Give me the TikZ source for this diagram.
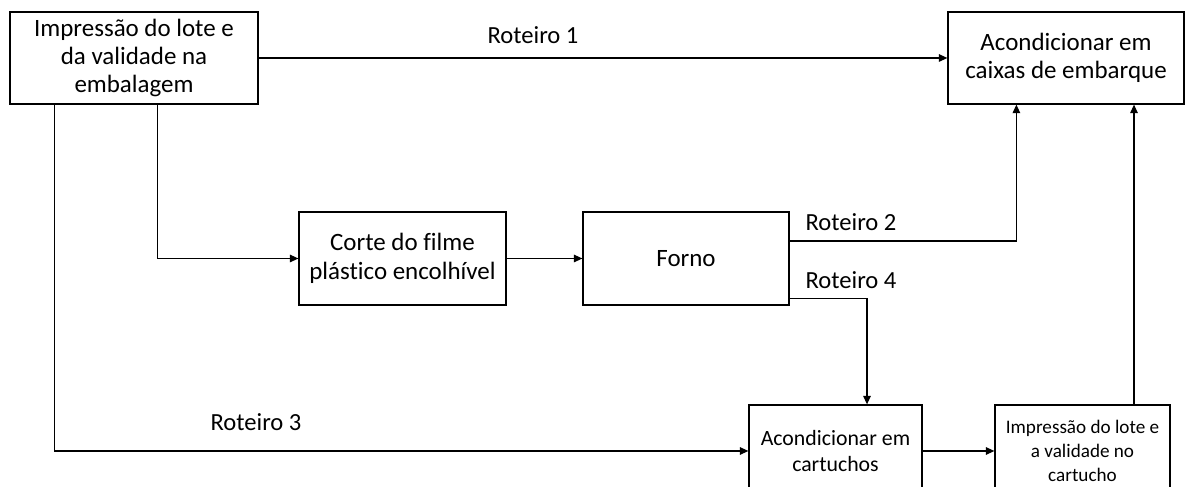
\documentclass[tikz,border=0pt]{standalone}
\usepackage{fontspec}
\setmainfont{Carlito}[Ligatures=NoCommon]
\usetikzlibrary{arrows.meta}

\begin{document}
\begin{tikzpicture}[>={Triangle[length=1.7mm,width=1.5mm]}, line width=0.7pt,
  caixa/.style={draw, align=center, inner sep=2pt,
    font=\fontsize{14.2}{16.2}\selectfont},
  rotulo/.style={font=\fontsize{14}{16}\selectfont}]
  \path[use as bounding box, clip] (0,0) rectangle (23.7,9.74);
  % etapas
  \node[caixa, minimum width=4.96cm, minimum height=1.84cm] (impLote) at (2.68,8.58)
    {Impressão do lote e\\da validade na\\embalagem};
  \node[caixa, minimum width=4.72cm, minimum height=1.84cm] (caixas) at (21.32,8.58)
    {Acondicionar em\\caixas de embarque};
  \node[caixa, minimum width=4.14cm, minimum height=1.86cm] (corte) at (8.05,4.57)
    {Corte do filme\\plástico encolhível};
  \node[caixa, minimum width=4.12cm, minimum height=1.86cm] (forno) at (13.72,4.57)
    {Forno};
  \node[caixa, minimum width=3.46cm, minimum height=1.84cm,
    font=\fontsize{12.4}{14.8}\selectfont] (cartuchos) at (16.71,0.72)
    {Acondicionar em\\cartuchos};
  \node[caixa, minimum width=3.5cm, minimum height=1.84cm,
    font=\fontsize{10.9}{13.6}\selectfont] (impCart) at (21.65,0.72)
    {Impressão do lote e\\a validade no\\cartucho};
  % roteiro 1
  \draw[->] (impLote) -- (caixas);
  \node[rotulo] (r1) at (10.66,9.04) {Roteiro 1};
  % para o corte
  \draw[->] ([xshift=2.96cm]impLote.south west) |- (corte.west);
  \draw[->] (corte) -- (forno);
  % roteiro 2
  \draw[->] ([yshift=0.35cm]forno.east) -| ([xshift=1.38cm]caixas.south west);
  \node[rotulo] (r2) at (17.02,5.3) {Roteiro 2};
  % roteiro 4
  \draw[->] ([yshift=0.14cm]forno.south east) -| ([xshift=0.63cm]cartuchos.north);
  \node[rotulo] (r4) at (17.02,4.14) {Roteiro 4};
  % roteiro 3
  \draw[->] ([xshift=0.9cm]impLote.south west) |- (cartuchos.west);
  \node[rotulo] (r3) at (5.12,1.3) {Roteiro 3};
  % cartuchos ate caixas
  \draw[->] (cartuchos) -- (impCart);
  \coordinate (saidaCart) at ([xshift=1.03cm]impCart.north);
  \draw[->] (saidaCart) -- (saidaCart |- caixas.south);
\end{tikzpicture}
\end{document}
